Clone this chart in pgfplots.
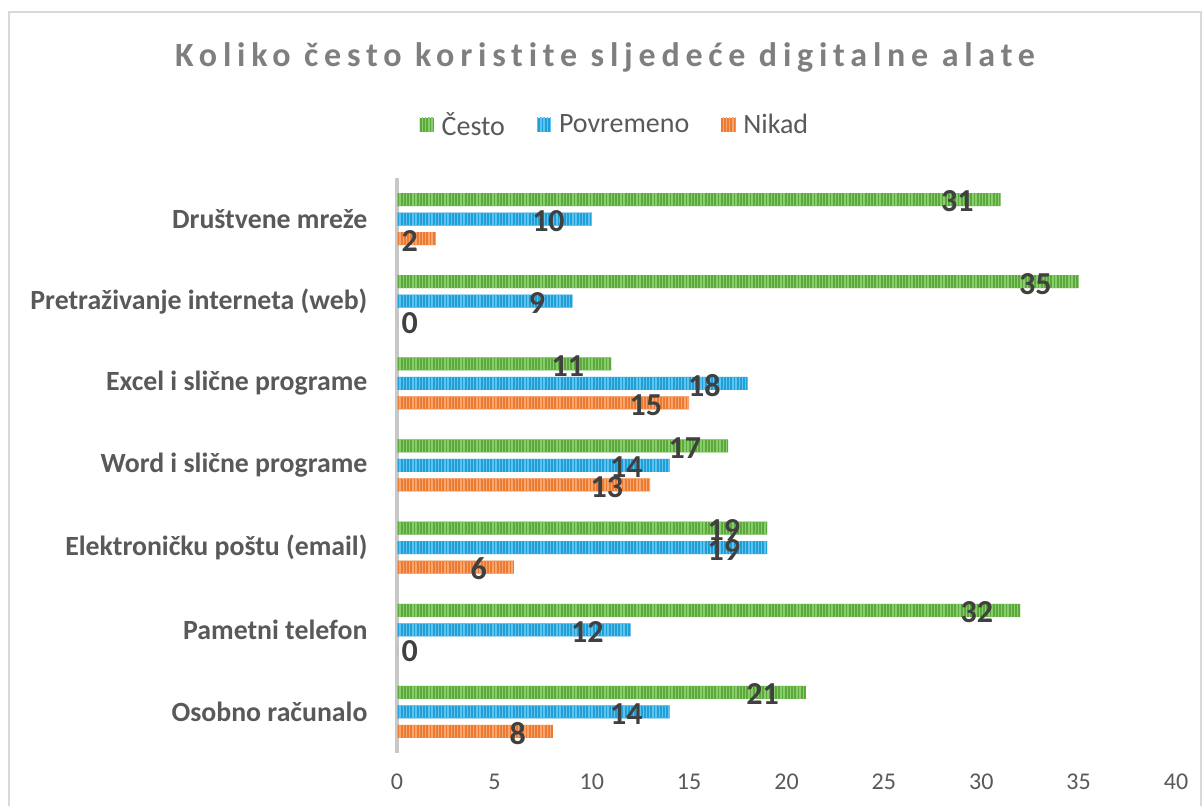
\documentclass[border=0pt]{standalone}
\usepackage{fontspec}
\setmainfont{Carlito}[Ligatures={NoCommon}]
\usepackage{pgfplots}
\usepackage{pgfplotstable}
\pgfplotsset{compat=1.18}
\usetikzlibrary{patterns.meta}
\definecolor{cgreen}{HTML}{5AAA3A}
\definecolor{cgreenL}{HTML}{8DCB72}
\definecolor{cblue}{HTML}{1E9FD8}
\definecolor{cblueL}{HTML}{62C2EC}
\definecolor{corange}{HTML}{EC7A30}
\definecolor{corangeL}{HTML}{F4A673}
\definecolor{axisgray}{HTML}{C8C8C8}
\definecolor{bordergray}{HTML}{D9D9D9}
\definecolor{txtgray}{HTML}{595959}
\definecolor{lblgray}{HTML}{404040}
\definecolor{titlegray}{HTML}{7F7F7F}

\pgfplotstableread{
y cesto povremeno nikad
0 21 14 8
1 32 12 0
2 19 19 6
3 17 14 13
4 11 18 15
5 35 9 0
6 31 10 2
}\datatable

\begin{document}
\begin{tikzpicture}
\useasboundingbox (0,0) rectangle (601pt,403pt);
\draw[color=bordergray, line width=1pt] (4.5pt,-5pt) rectangle (600.6pt,397pt);
\node[font=\fontsize{17}{20}\selectfont\bfseries\addfontfeatures{LetterSpace=17}, text=titlegray] at (302.5pt,374.5pt) {Koliko često koristite sljedeće digitalne alate};
\begin{axis}[
  at={(198.5pt,26.5pt)}, anchor=south west,
  scale only axis, width=389.5pt, height=287.5pt,
  xbar, bar width=6.5pt,
  xmin=0, xmax=40, ymin=-0.5, ymax=6.5,
  xtick={0,5,...,40},
  ytick={0,...,6},
  yticklabels={Osobno računalo, Pametni telefon, Elektroničku poštu (email), Word i slične programe, Excel i slične programe, Pretraživanje interneta (web), Društvene mreže},
  axis lines*=left,
  x axis line style={draw=none},
  y axis line style={draw=axisgray, line width=1.6pt},
  tick style={draw=none},
  /pgf/number format/assume math mode=true,
  xticklabel style={font=\fontsize{12}{14}\selectfont, text=txtgray, yshift=-7pt},
  yticklabel style={font=\fontsize{13.9}{16}\selectfont\bfseries, text=txtgray, xshift=-7pt},
  point meta=x,
  nodes near coords,
  every node near coord/.append style={font=\fontsize{16}{19}\selectfont\bfseries, text=lblgray, anchor=east, xshift=-10pt, yshift=-1pt},
  legend image code/.code={\path[#1] (0pt,-3.6pt) rectangle (7.2pt,3.6pt); \path (9pt,0pt);},
  legend style={at={(0.281,1.092)}, anchor=center, legend columns=3, draw=none, fill=none,
    font=\fontsize{14}{16}\selectfont, text=txtgray,
    /tikz/every even column/.append style={column sep=14pt}},
]
\addplot[fill=cgreen, draw=none, bar shift=9.75pt,
  postaction={pattern={Lines[angle=90,distance=1.6pt,line width=0.7pt]}, pattern color=cgreenL}]
  table[x=cesto, y=y] {\datatable};
\addplot[fill=cblue, draw=none, bar shift=0pt,
  postaction={pattern={Lines[angle=90,distance=1.6pt,line width=0.7pt]}, pattern color=cblueL}]
  table[x=povremeno, y=y] {\datatable};
\addplot[fill=corange, draw=none, bar shift=-9.75pt,
  postaction={pattern={Lines[angle=90,distance=1.6pt,line width=0.7pt]}, pattern color=corangeL},
  coordinate style/.condition={\coordindex==1 || \coordindex==5}{xshift=24pt},
  coordinate style/.condition={\coordindex==6}{xshift=4.5pt}]
  table[x=nikad, y=y] {\datatable};
\legend{Često, Povremeno, Nikad}
\end{axis}
\end{tikzpicture}
\end{document}
